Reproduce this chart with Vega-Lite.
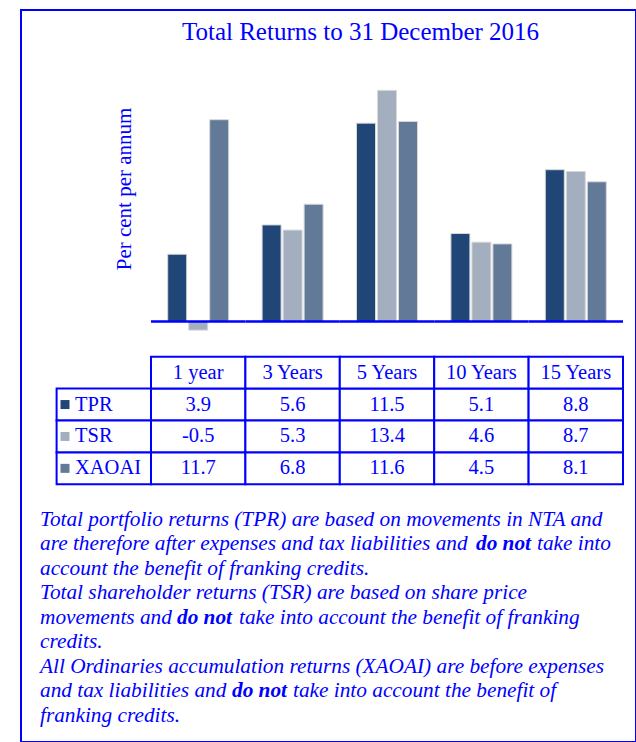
{
  "$schema": "https://vega.github.io/schema/vega-lite/v6.json",
  "width": 615,
  "height": 732,
  "autosize": {"type": "none"},
  "padding": {"left": 21, "top": 10, "right": 0, "bottom": 0},
  "background": "white",
  "config": {
    "view": {"stroke": "#0000ff", "strokeWidth": 2},
    "font": "Liberation Serif"
  },
  "title": {
    "text": "Total Returns to 31 December 2016",
    "font": "Liberation Serif",
    "fontSize": 25,
    "fontWeight": "normal",
    "color": "#0000ff",
    "anchor": "middle",
    "frame": "group",
    "offset": -24,
    "baseline": "alphabetic",
    "dx": 32,
    "dy": 31
  },
  "data": {"values": [
      {"period": "1 year", "series": "TPR", "value": 3.9},
      {"period": "1 year", "series": "TSR", "value": -0.5},
      {"period": "1 year", "series": "XAOAI", "value": 11.7},
      {"period": "3 Years", "series": "TPR", "value": 5.6},
      {"period": "3 Years", "series": "TSR", "value": 5.3},
      {"period": "3 Years", "series": "XAOAI", "value": 6.8},
      {"period": "5 Years", "series": "TPR", "value": 11.5},
      {"period": "5 Years", "series": "TSR", "value": 13.4},
      {"period": "5 Years", "series": "XAOAI", "value": 11.6},
      {"period": "10 Years", "series": "TPR", "value": 5.1},
      {"period": "10 Years", "series": "TSR", "value": 4.6},
      {"period": "10 Years", "series": "XAOAI", "value": 4.5},
      {"period": "15 Years", "series": "TPR", "value": 8.8},
      {"period": "15 Years", "series": "TSR", "value": 8.7},
      {"period": "15 Years", "series": "XAOAI", "value": 8.1}
  ]},
  "layer": [
    {
      "mark": {"type": "bar", "stroke": "#d9d9d9", "strokeWidth": 1},
      "encoding": {
        "x": {
          "field": "period",
          "type": "nominal",
          "sort": null,
          "scale": {
            "domain": ["label", "1 year", "3 Years", "5 Years", "10 Years", "15 Years"],
            "range": [35.6, 602],
            "paddingInner": 0,
            "paddingOuter": 0
          },
          "axis": null
        },
        "xOffset": {
          "field": "series",
          "type": "nominal",
          "scale": {"domain": ["TPR", "TSR", "XAOAI"], "paddingInner": 0.095, "paddingOuter": 0.795}
        },
        "y": {
          "field": "value",
          "type": "quantitative",
          "scale": {"domain": [-1, 16.43], "range": [328.75, 28.1], "nice": false, "zero": false},
          "axis": {
            "title": "Per cent per annum",
            "titleFont": "Liberation Serif",
            "titleFontSize": 21,
            "titleFontWeight": "normal",
            "titleColor": "#0000ff",
            "labels": false,
            "ticks": false,
            "domain": false,
            "grid": false,
            "offset": -113,
            "titlePadding": 0
          }
        },
        "color": {
          "field": "series",
          "type": "nominal",
          "scale": {"domain": ["TPR", "TSR", "XAOAI"], "range": ["#1f4677", "#a3aebf", "#627998"]},
          "legend": null
        }
      }
    },
    {
      "transform": [{"aggregate": [{"op": "count", "as": "n"}], "groupby": ["period"]}],
      "mark": {"type": "rect", "fill": "#0000ff", "stroke": "#0000ff", "strokeWidth": 2.5},
      "encoding": {
        "x": {"field": "period", "type": "nominal"},
        "y": {"datum": 0, "type": "quantitative", "scale": {"domain": [-1, 16.43], "range": [328.75, 28.1], "nice": false, "zero": false}, "axis": null},
        "y2": {"datum": 0}
      }
    },
    {
      "mark": {"type": "rect", "fill": "white", "stroke": "#0000ff", "strokeWidth": 2},
      "encoding": {
        "x": {"field": "period", "type": "nominal"},
        "y": {"field": "series", "type": "nominal", "scale": {"domain": ["header", "TPR", "TSR", "XAOAI"], "range": [346.7, 474.3], "paddingInner": 0, "paddingOuter": 0}, "axis": null}
      }
    },
    {
      "data": {"values": [
        {"period": "1 year", "series": "header"},
        {"period": "3 Years", "series": "header"},
        {"period": "5 Years", "series": "header"},
        {"period": "10 Years", "series": "header"},
        {"period": "15 Years", "series": "header"},
        {"period": "label", "series": "TPR"},
        {"period": "label", "series": "TSR"},
        {"period": "label", "series": "XAOAI"}
      ]},
      "mark": {"type": "rect", "fill": "white", "stroke": "#0000ff", "strokeWidth": 2},
      "encoding": {
        "x": {"field": "period", "type": "nominal"},
        "y": {"field": "series", "type": "nominal", "scale": {"domain": ["header", "TPR", "TSR", "XAOAI"], "range": [346.7, 474.3], "paddingInner": 0, "paddingOuter": 0}, "axis": null}
      }
    },
    {
      "mark": {"type": "text", "font": "Liberation Serif", "fontSize": 20.5, "baseline": "middle", "align": "center", "color": "#0000ff"},
      "encoding": {
        "x": {"field": "period", "type": "nominal"},
        "y": {"field": "series", "type": "nominal", "scale": {"domain": ["header", "TPR", "TSR", "XAOAI"], "range": [346.7, 474.3], "paddingInner": 0, "paddingOuter": 0}, "axis": null},
        "text": {"field": "value", "type": "nominal"}
      }
    },
    {
      "data": {"values": [
        {"period": "1 year", "series": "header"},
        {"period": "3 Years", "series": "header"},
        {"period": "5 Years", "series": "header"},
        {"period": "10 Years", "series": "header"},
        {"period": "15 Years", "series": "header"}
      ]},
      "mark": {"type": "text", "font": "Liberation Serif", "fontSize": 20.5, "baseline": "middle", "align": "center", "color": "#0000ff"},
      "encoding": {
        "x": {"field": "period", "type": "nominal"},
        "y": {"field": "series", "type": "nominal", "scale": {"domain": ["header", "TPR", "TSR", "XAOAI"], "range": [346.7, 474.3], "paddingInner": 0, "paddingOuter": 0}, "axis": null},
        "text": {"field": "period", "type": "nominal"}
      }
    },
    {
      "data": {"values": [
        {"period": "label", "series": "TPR"},
        {"period": "label", "series": "TSR"},
        {"period": "label", "series": "XAOAI"}
      ]},
      "mark": {"type": "text", "font": "Liberation Serif", "fontSize": 20.5, "baseline": "middle", "align": "left", "dx": -28.8, "color": "#0000ff"},
      "encoding": {
        "x": {"field": "period", "type": "nominal"},
        "y": {"field": "series", "type": "nominal", "scale": {"domain": ["header", "TPR", "TSR", "XAOAI"], "range": [346.7, 474.3], "paddingInner": 0, "paddingOuter": 0}, "axis": null},
        "text": {"field": "series", "type": "nominal"}
      }
    },
    {
      "data": {"values": [
        {"period": "label", "series": "TPR"},
        {"period": "label", "series": "TSR"},
        {"period": "label", "series": "XAOAI"}
      ]},
      "mark": {"type": "point", "shape": "square", "filled": true, "size": 81, "opacity": 1, "xOffset": -38.8},
      "encoding": {
        "x": {"field": "period", "type": "nominal"},
        "y": {"field": "series", "type": "nominal", "scale": {"domain": ["header", "TPR", "TSR", "XAOAI"], "range": [346.7, 474.3], "paddingInner": 0, "paddingOuter": 0}, "axis": null},
        "color": {"field": "series", "type": "nominal", "legend": null}
      }
    },
    {
      "data": {"values": [
        {"line": 1, "text": "Total portfolio returns (TPR) are based on movements in NTA and"},
        {"line": 2, "text": "are therefore after expenses and tax liabilities and"},
        {"line": 3, "text": "account the benefit of franking credits."},
        {"line": 4, "text": "Total shareholder returns (TSR) are based on share price"},
        {"line": 5, "text": "movements and"},
        {"line": 6, "text": "credits."},
        {"line": 7, "text": "All Ordinaries accumulation returns (XAOAI) are before expenses"},
        {"line": 8, "text": "and tax liabilities and"},
        {"line": 9, "text": "franking credits."}
      ]},
      "mark": {"type": "text", "font": "Liberation Serif", "fontSize": 21.3, "fontStyle": "italic", "align": "left", "baseline": "middle", "dx": -288.5, "color": "#0000ff"},
      "encoding": {
        "y": {"field": "line", "type": "ordinal", "scale": {"type": "point", "domain": [1, 2, 3, 4, 5, 6, 7, 8, 9], "range": [509.6, 706], "padding": 0}, "axis": null},
        "text": {"field": "text", "type": "nominal"}
      }
    },
    {
      "data": {"values": [{"line": 2, "text": "do not"}]},
      "mark": {"type": "text", "font": "Liberation Serif", "fontSize": 21.3, "fontStyle": "italic", "fontWeight": "bold", "align": "left", "baseline": "middle", "dx": 147.5, "color": "#0000ff"},
      "encoding": {
        "y": {"field": "line", "type": "ordinal", "scale": {"type": "point", "domain": [1, 2, 3, 4, 5, 6, 7, 8, 9], "range": [509.6, 706], "padding": 0}, "axis": null},
        "text": {"field": "text", "type": "nominal"}
      }
    },
    {
      "data": {"values": [{"line": 2, "text": "take into"}]},
      "mark": {"type": "text", "font": "Liberation Serif", "fontSize": 21.3, "fontStyle": "italic", "align": "left", "baseline": "middle", "dx": 208.5, "color": "#0000ff"},
      "encoding": {
        "y": {"field": "line", "type": "ordinal", "scale": {"type": "point", "domain": [1, 2, 3, 4, 5, 6, 7, 8, 9], "range": [509.6, 706], "padding": 0}, "axis": null},
        "text": {"field": "text", "type": "nominal"}
      }
    },
    {
      "data": {"values": [{"line": 5, "text": "do not"}]},
      "mark": {"type": "text", "font": "Liberation Serif", "fontSize": 21.3, "fontStyle": "italic", "fontWeight": "bold", "align": "left", "baseline": "middle", "dx": -151.5, "color": "#0000ff"},
      "encoding": {
        "y": {"field": "line", "type": "ordinal", "scale": {"type": "point", "domain": [1, 2, 3, 4, 5, 6, 7, 8, 9], "range": [509.6, 706], "padding": 0}, "axis": null},
        "text": {"field": "text", "type": "nominal"}
      }
    },
    {
      "data": {"values": [{"line": 5, "text": "take into account the benefit of franking"}]},
      "mark": {"type": "text", "font": "Liberation Serif", "fontSize": 21.3, "fontStyle": "italic", "align": "left", "baseline": "middle", "dx": -89.5, "color": "#0000ff"},
      "encoding": {
        "y": {"field": "line", "type": "ordinal", "scale": {"type": "point", "domain": [1, 2, 3, 4, 5, 6, 7, 8, 9], "range": [509.6, 706], "padding": 0}, "axis": null},
        "text": {"field": "text", "type": "nominal"}
      }
    },
    {
      "data": {"values": [{"line": 8, "text": "do not"}]},
      "mark": {"type": "text", "font": "Liberation Serif", "fontSize": 21.3, "fontStyle": "italic", "fontWeight": "bold", "align": "left", "baseline": "middle", "dx": -96.5, "color": "#0000ff"},
      "encoding": {
        "y": {"field": "line", "type": "ordinal", "scale": {"type": "point", "domain": [1, 2, 3, 4, 5, 6, 7, 8, 9], "range": [509.6, 706], "padding": 0}, "axis": null},
        "text": {"field": "text", "type": "nominal"}
      }
    },
    {
      "data": {"values": [{"line": 8, "text": "take into account the benefit of"}]},
      "mark": {"type": "text", "font": "Liberation Serif", "fontSize": 21.3, "fontStyle": "italic", "align": "left", "baseline": "middle", "dx": -35.5, "color": "#0000ff"},
      "encoding": {
        "y": {"field": "line", "type": "ordinal", "scale": {"type": "point", "domain": [1, 2, 3, 4, 5, 6, 7, 8, 9], "range": [509.6, 706], "padding": 0}, "axis": null},
        "text": {"field": "text", "type": "nominal"}
      }
    }
  ],
  "resolve": {"scale": {"y": "independent"}}
}
